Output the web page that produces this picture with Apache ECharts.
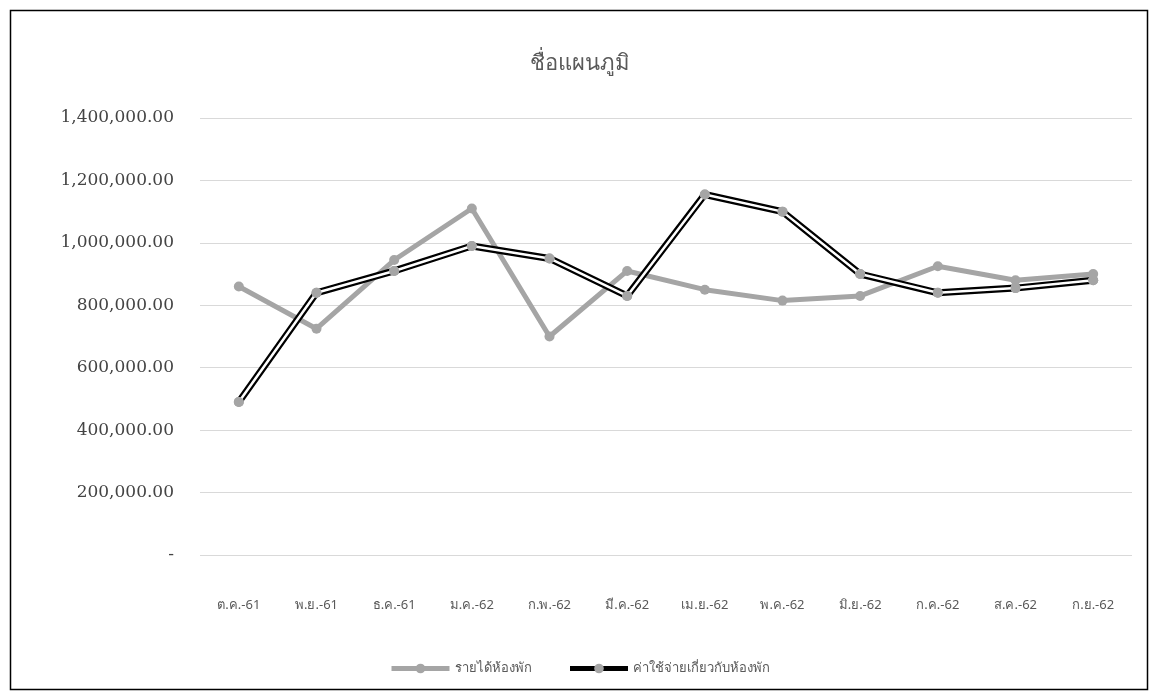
<!DOCTYPE html>
<html>
<head>
<meta charset="utf-8">
<script src="https://cdn.jsdelivr.net/npm/echarts@6/dist/echarts.min.js"></script>
<style>
html,body{margin:0;padding:0;background:#fff;}
#c{width:1159px;height:700px;}
</style>
</head>
<body>
<div id="c"></div>
<script>
const chartTitle = 'ชื่อแผนภูมิ';
const categories = ['ต.ค.-61','พ.ย.-61','ธ.ค.-61','ม.ค.-62','ก.พ.-62','มี.ค.-62','เม.ย.-62','พ.ค.-62','มิ.ย.-62','ก.ค.-62','ส.ค.-62','ก.ย.-62'];
const seriesNames = ['รายได้ห้องพัก','ค่าใช้จ่ายเกี่ยวกับห้องพัก'];
const revenue = [860000, 725000, 945000, 1110000, 700000, 910000, 850000, 815000, 830000, 925000, 880000, 900000];
const expense = [490000, 840000, 910000, 990000, 950000, 830000, 1155000, 1100000, 900000, 840000, 855000, 880000];
const yMin = 0, yMax = 1400000, yStep = 200000;

const chart = echarts.init(document.getElementById('c'));
const gray = '#a5a5a5';
const textColor = '#595959';
chart.setOption({
  backgroundColor: '#fff',
  animation: false,
  title: {
    text: chartTitle, left: 'center', top: 48,
    textStyle: {color: textColor, fontSize: 22, fontWeight: 'normal', fontFamily: 'Noto Sans, sans-serif'}
  },
  graphic: [{
    type: 'rect', shape: {x: 10.5, y: 10.5, width: 1137, height: 679},
    style: {fill: 'none', stroke: '#000', lineWidth: 1.5}, silent: true
  }],
  legend: {
    data: seriesNames, bottom: 20, left: 'center', itemWidth: 58, itemHeight: 12, itemGap: 36,
    lineStyle: {width: 5},
    textStyle: {color: textColor, fontSize: 13, fontFamily: 'Noto Sans, sans-serif'}
  },
  grid: {left: 200, right: 27, top: 118, bottom: 145},
  xAxis: {
    type: 'category', data: categories, boundaryGap: true,
    axisLine: {show: false}, axisTick: {show: false},
    axisLabel: {color: textColor, fontSize: 13, margin: 44, fontFamily: 'Noto Sans, sans-serif'}
  },
  yAxis: {
    type: 'value', min: yMin, max: yMax, interval: yStep,
    axisLine: {show: false}, axisTick: {show: false},
    splitLine: {lineStyle: {color: '#d9d9d9', width: 1}},
    axisLabel: {
      color: '#444', fontSize: 17, margin: 26, fontFamily: 'DejaVu Serif, serif',
      formatter: v => v === 0 ? '-' : v.toLocaleString('en-US', {minimumFractionDigits: 2, maximumFractionDigits: 2})
    }
  },
  series: [
    {
      name: seriesNames[0], type: 'line', data: revenue,
      symbol: 'circle', symbolSize: 10,
      lineStyle: {color: gray, width: 5}, itemStyle: {color: gray}, z: 2
    },
    {
      name: seriesNames[1], type: 'line', data: expense,
      symbol: 'circle', symbolSize: 10,
      lineStyle: {color: '#000', width: 7}, itemStyle: {color: gray}, z: 3
    },
    {
      name: 'inner', type: 'line', data: expense, symbol: 'none',
      lineStyle: {color: '#fff', width: 2.5}, z: 4, silent: true
    },
    {
      name: 'marks', type: 'line', data: expense, symbol: 'circle', symbolSize: 10,
      lineStyle: {opacity: 0, width: 0}, itemStyle: {color: gray}, z: 5, silent: true
    }
  ]
});
</script>
</body>
</html>
